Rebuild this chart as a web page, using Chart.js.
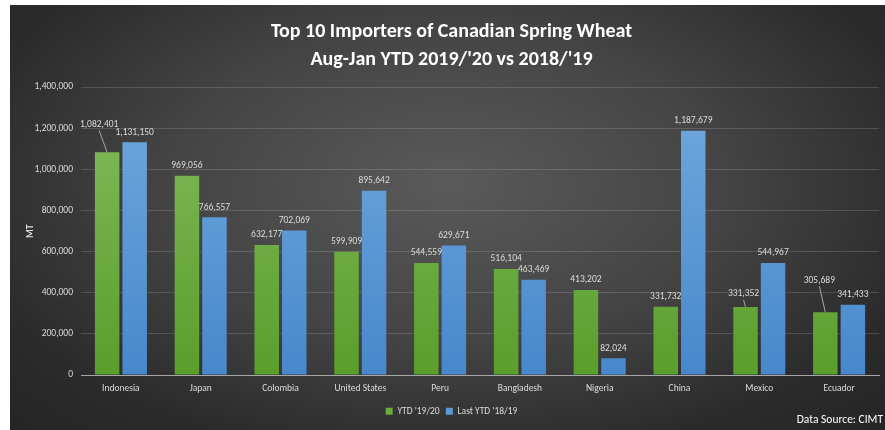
<!DOCTYPE html>
<html>
<head>
<meta charset="utf-8">
<script src="https://cdn.jsdelivr.net/npm/chart.js@4/dist/chart.umd.min.js"></script>
<style>
    html, body { margin: 0; padding: 0; background: #ffffff; }
    #wrap {
        position: absolute;
        left: 10px; top: 5px;
        width: 875px; height: 425px;
        background: radial-gradient(ellipse at 50% 42%, #5a5a5a 0%, #444444 45%, #2b2b2b 80%, #252525 100%);
    }
    #source {
        position: absolute;
        right: 2px; top: 407px;
        color: #ffffff;
        font: 11.5px Carlito, "Roboto Condensed", sans-serif;
    }
</style>
</head>
<body>
<div id="wrap">
    <canvas id="chart" width="875" height="425"></canvas>
    <div id="source">Data Source: CIMT</div>
</div>
<script>
// Данные графика
const countries = ['Indonesia', 'Japan', 'Colombia', 'United States', 'Peru',
    'Bangladesh', 'Nigeria', 'China', 'Mexico', 'Ecuador'];
const ytd1920 = [1082401, 969056, 632177, 599909, 544559, 516104, 413202, 331732, 331352, 305689];
const ytd1819 = [1131150, 766557, 702069, 895642, 629671, 463469, 82024, 1187679, 544967, 341433];
const seriesNames = ["YTD '19/20", "Last YTD '18/19"];
const yTicks = [0, 200000, 400000, 600000, 800000, 1000000, 1200000, 1400000];

const FONT = 'Carlito, "Roboto Condensed", sans-serif';
const TXT = '#dcdcdc';

// сдвиг подписей, которые в оригинале вынесены с линией-выноской
const labelOffsets = {
    '0-0': {dx: -8, dy: -18},
    '0-9': {dx: -6, dy: -22},
    '0-8': {dx: -2, dy: -3}
};

function fmt(v) {
    return v.toLocaleString('en-US');
}

// вертикальный градиент для столбцов
function barGradient(top, bottom) {
    return function (context) {
        const area = context.chart.chartArea;
        if (!area) return bottom;
        const g = context.chart.ctx.createLinearGradient(0, area.top, 0, area.bottom);
        g.addColorStop(0, top);
        g.addColorStop(1, bottom);
        return g;
    };
}

// подписи значений над столбцами
const barLabels = {
    id: 'barLabels',
    afterDatasetsDraw(chart) {
        const ctx = chart.ctx;
        ctx.save();
        ctx.font = '9.5px ' + FONT;
        ctx.fillStyle = TXT;
        ctx.textAlign = 'center';
        ctx.textBaseline = 'middle';
        chart.data.datasets.forEach((ds, di) => {
            chart.getDatasetMeta(di).data.forEach((bar, i) => {
                const off = labelOffsets[di + '-' + i] || {dx: 0, dy: 0};
                const x = bar.x + off.dx;
                const y = bar.y - 10 + off.dy;
                ctx.fillText(fmt(ds.data[i]), x, y);
                if (off.dy < -2) {
                    ctx.strokeStyle = '#a6a6a6';
                    ctx.lineWidth = 1;
                    ctx.beginPath();
                    ctx.moveTo(x, y + 6);
                    ctx.lineTo(bar.x, bar.y);
                    ctx.stroke();
                }
            });
        });
        ctx.restore();
    }
};

new Chart(document.getElementById('chart'), {
    type: 'bar',
    data: {
        labels: countries,
        datasets: [{
            label: seriesNames[0],
            data: ytd1920,
            backgroundColor: barGradient('#82bd5e', '#5a9e2c'),
            borderWidth: 0,
            categoryPercentage: 0.69,
            barPercentage: 0.89
        }, {
            label: seriesNames[1],
            data: ytd1819,
            backgroundColor: barGradient('#72a9dd', '#4788cc'),
            borderWidth: 0,
            categoryPercentage: 0.69,
            barPercentage: 0.89
        }]
    },
    plugins: [barLabels],
    options: {
        responsive: false,
        animation: false,
        layout: {padding: {left: 14, right: 6, top: 0, bottom: 4}},
        plugins: {
            title: {
                display: true,
                text: ['Top 10 Importers of Canadian Spring Wheat', "Aug-Jan YTD 2019/'20 vs 2018/'19"],
                color: '#ffffff',
                font: {family: FONT, size: 20, weight: 'bold', lineHeight: 1.4},
                padding: {top: 13, bottom: 13}
            },
            legend: {
                position: 'bottom',
                labels: {
                    color: TXT,
                    font: {family: FONT, size: 9.5},
                    boxWidth: 7,
                    boxHeight: 7,
                    padding: 4,
                    generateLabels: function (chart) {
                        const cols = ['#6aac3f', '#5b9bd5'];
                        return chart.data.datasets.map((ds, i) => ({
                            text: i === 0 ? ds.label + ' ' : ds.label,
                            fillStyle: cols[i],
                            strokeStyle: cols[i],
                            lineWidth: 0,
                            fontColor: TXT,
                            datasetIndex: i
                        }));
                    }
                }
            },
            tooltip: {enabled: false}
        },
        scales: {
            x: {
                grid: {display: false, drawTicks: false},
                border: {display: true, color: '#a6a6a6', width: 1},
                ticks: {color: TXT, font: {family: FONT, size: 9.5}, padding: 8, maxRotation: 0}
            },
            y: {
                min: 0,
                max: 1400000,
                afterBuildTicks: function (scale) {
                    scale.ticks = yTicks.map(v => ({value: v}));
                },
                grid: {color: 'rgba(255,255,255,0.14)', drawTicks: false},
                border: {display: false},
                ticks: {
                    color: TXT,
                    font: {family: FONT, size: 9.5},
                    padding: 8,
                    callback: v => fmt(v)
                },
                title: {
                    display: true,
                    text: 'MT',
                    color: TXT,
                    font: {family: FONT, size: 10, weight: 'bold'},
                    padding: 0
                },
                afterFit: function (scale) {
                    scale.width = 57;
                }
            }
        }
    }
});
</script>
</body>
</html>
